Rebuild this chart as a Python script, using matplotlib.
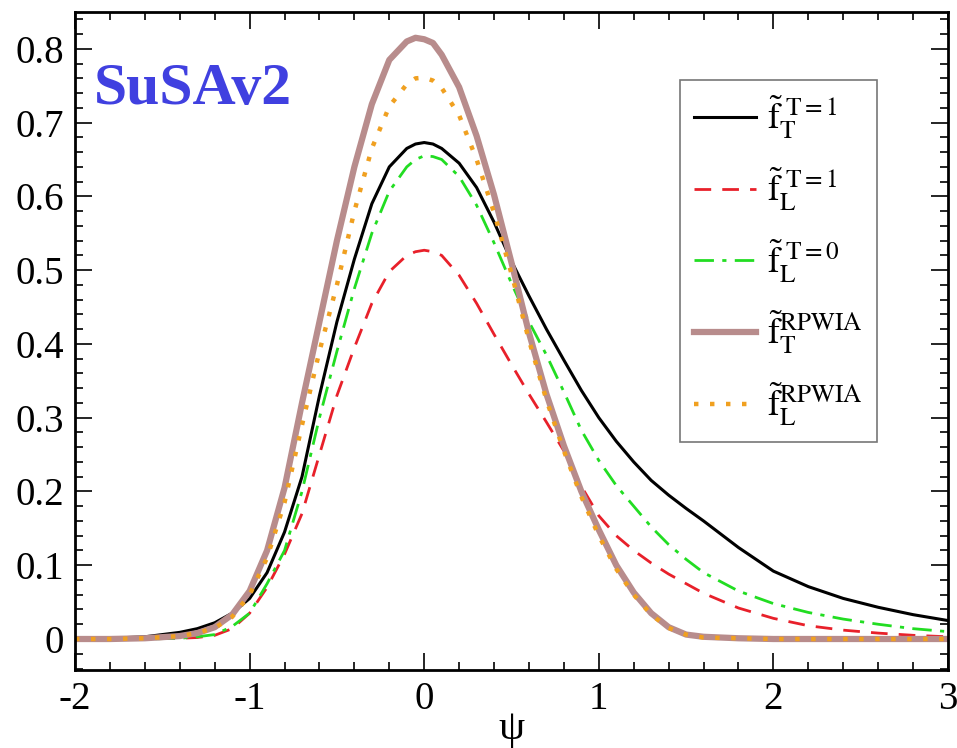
import matplotlib.pyplot as plt
from matplotlib.ticker import MultipleLocator

plt.rcParams['font.family'] = ['Liberation Serif', 'DejaVu Serif']
plt.rcParams['mathtext.fontset'] = 'stix'

psi = [-2.0, -1.8, -1.6, -1.4, -1.3, -1.2, -1.1, -1.0, -0.9, -0.8, -0.7, -0.6,
       -0.5, -0.4, -0.3, -0.2, -0.1, -0.05, 0.0, 0.05, 0.1, 0.2, 0.3, 0.4,
       0.5, 0.6, 0.7, 0.8, 0.9, 1.0, 1.1, 1.2, 1.3, 1.4, 1.5, 1.6, 1.8, 2.0,
       2.2, 2.4, 2.6, 2.8, 3.0]

fT_T1 = [0.0, 0.001, 0.003, 0.009, 0.014, 0.022, 0.035, 0.055, 0.09, 0.145,
         0.22, 0.33, 0.43, 0.515, 0.59, 0.64, 0.665, 0.671, 0.673, 0.671,
         0.665, 0.645, 0.612, 0.565, 0.512, 0.465, 0.42, 0.378, 0.337, 0.30,
         0.268, 0.24, 0.215, 0.195, 0.177, 0.16, 0.124, 0.092, 0.071, 0.055,
         0.043, 0.033, 0.025]

fL_T1 = [0.0, 0.0, 0.0, 0.001, 0.002, 0.005, 0.014, 0.035, 0.07, 0.115,
         0.17, 0.25, 0.33, 0.395, 0.455, 0.498, 0.52, 0.525, 0.527, 0.525,
         0.52, 0.493, 0.455, 0.413, 0.372, 0.332, 0.294, 0.255, 0.207,
         0.167, 0.14, 0.12, 0.103, 0.088, 0.075, 0.062, 0.042, 0.028, 0.018,
         0.012, 0.008, 0.005, 0.003]

fL_T0 = [0.0, 0.0, 0.0, 0.001, 0.003, 0.006, 0.017, 0.035, 0.075, 0.12,
         0.20, 0.30, 0.39, 0.475, 0.55, 0.607, 0.64, 0.65, 0.655, 0.654,
         0.65, 0.627, 0.588, 0.537, 0.482, 0.43, 0.385, 0.335, 0.283, 0.242,
         0.208, 0.18, 0.152, 0.128, 0.108, 0.09, 0.065, 0.048, 0.036, 0.027,
         0.02, 0.014, 0.01]

fT_RPWIA = [0.0, 0.0, 0.001, 0.004, 0.008, 0.016, 0.033, 0.065, 0.12, 0.205,
            0.32, 0.43, 0.54, 0.64, 0.725, 0.785, 0.81, 0.815, 0.813, 0.808,
            0.792, 0.748, 0.682, 0.602, 0.51, 0.415, 0.332, 0.262, 0.20,
            0.148, 0.10, 0.063, 0.035, 0.016, 0.006, 0.003, 0.001, 0.0, 0.0,
            0.0, 0.0, 0.0, 0.0]

fL_RPWIA = [0.0, 0.0, 0.001, 0.004, 0.008, 0.015, 0.03, 0.06, 0.11, 0.185,
            0.29, 0.39, 0.48, 0.58, 0.665, 0.722, 0.752, 0.76, 0.761, 0.757,
            0.747, 0.71, 0.65, 0.578, 0.495, 0.405, 0.324, 0.255, 0.193,
            0.14, 0.095, 0.06, 0.033, 0.015, 0.006, 0.002, 0.001, 0.0, 0.0,
            0.0, 0.0, 0.0, 0.0]

fig = plt.figure(figsize=(9.57, 7.48), dpi=100)
ax = fig.add_axes([0.0784, 0.1043, 0.9122, 0.8797])

ax.plot(psi, fT_T1, color="black", lw=2.2,
        label=r"$\tilde{\mathrm{f}}_{\mathrm{T}}^{\ \mathrm{T=1}}$")
ax.plot(psi, fL_T1, color="#e8202a", lw=2.0, ls=(0, (6, 4)),
        label=r"$\tilde{\mathrm{f}}_{\mathrm{L}}^{\ \mathrm{T=1}}$")
ax.plot(psi, fL_T0, color="#22dd22", lw=2.0, ls=(0, (7, 3, 1.5, 3)),
        label=r"$\tilde{\mathrm{f}}_{\mathrm{L}}^{\ \mathrm{T=0}}$")
ax.plot(psi, fT_RPWIA, color="#b88c8c", lw=4.5,
        label=r"$\tilde{\mathrm{f}}_{\mathrm{T}}^{\mathrm{RPWIA}}$")
ax.plot(psi, fL_RPWIA, color="#f0a020", lw=3.2, ls=(0, (1, 2.6)),
        label=r"$\tilde{\mathrm{f}}_{\mathrm{L}}^{\mathrm{RPWIA}}$")

ax.set_xlim(-2, 3)
ax.set_ylim(-0.042, 0.85)
ax.set_xticks([-2, -1, 0, 1, 2, 3])
ax.set_xticklabels(["-2", "-1", "0", "1", "2", "3"], fontsize=28)
ax.set_yticks([0, 0.1, 0.2, 0.3, 0.4, 0.5, 0.6, 0.7, 0.8])
ax.set_yticklabels(["0", "0.1", "0.2", "0.3", "0.4", "0.5", "0.6", "0.7", "0.8"],
                   fontsize=28)
ax.xaxis.set_minor_locator(MultipleLocator(0.2))
ax.yaxis.set_minor_locator(MultipleLocator(0.02))
ax.tick_params(which="both", direction="in", top=True, right=True, width=1.2)
ax.tick_params(which="major", length=12, pad=8)
ax.tick_params(which="minor", length=6)
for s in ax.spines.values():
    s.set_linewidth(2)

ax.set_xlabel("ψ", fontsize=30, labelpad=-6)

ax.text(0.022, 0.881, "SuSAv2", transform=ax.transAxes, fontsize=43,
        fontweight="bold", color="#4040e0", va="center")

leg = ax.legend(loc="upper left", bbox_to_anchor=(0.693, 0.897), fontsize=26,
                handlelength=1.7, labelspacing=0.68, fancybox=False,
                edgecolor="#555555", borderpad=0.4, handletextpad=0.3,
                borderaxespad=0)
leg.get_frame().set_linewidth(1.2)

fig.savefig("out.png", dpi=100)
